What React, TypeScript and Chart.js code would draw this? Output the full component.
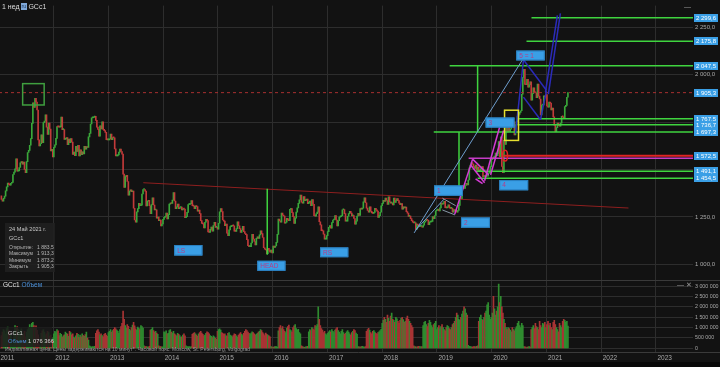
import React, { useEffect, useRef } from "react";
import { Chart, registerables } from "chart.js";
Chart.register(...registerables);

// ---------- data ----------
const FIRST_WEEK = 2011.0438; // Monday 17 Jan 2011 (fractional year)
const WEEK = 7 / 365.25;
const FIRST_OPEN = 1361.0;

const close2011 = [1342,1333,1348,1360,1388,1409,1429,1421,1418,1428,1432,1474,1486,1504,1556,1492,1493,1511,1536,1542,1529,1539,1501,1483,1542,1590,1601,1628,1663,1743,1852,1828,1876,1856,1814,1656,1624,1636,1683,1642,1747,1755,1788,1724,1685,1745,1713,1598,1606,1566];
const close2012 = [1617,1630,1664,1727,1725,1724,1726,1776,1710,1711,1659,1662,1669,1631,1660,1642,1663,1645,1580,1592,1573,1622,1595,1627,1572,1604,1579,1593,1582,1622,1607,1621,1616,1672,1691,1740,1772,1773,1776,1780,1759,1724,1712,1676,1731,1714,1751,1712,1705,1696,1657,1656];
const close2013 = [1656,1662,1687,1658,1669,1667,1609,1572,1572,1577,1592,1608,1595,1581,1476,1406,1463,1470,1437,1365,1386,1393,1383,1387,1296,1234,1223,1277,1294,1322,1310,1312,1371,1395,1395,1386,1308,1333,1338,1309,1268,1315,1351,1313,1287,1288,1244,1250,1230,1234,1203,1213];
const close2014 = [1237,1248,1253,1270,1240,1262,1318,1323,1321,1339,1379,1334,1294,1303,1318,1294,1300,1302,1287,1293,1292,1246,1252,1274,1316,1316,1320,1337,1310,1307,1294,1309,1305,1280,1287,1268,1231,1216,1214,1192,1222,1238,1231,1171,1169,1185,1197,1175,1205,1222,1195,1195];
const close2015 = [1186,1217,1277,1294,1279,1234,1228,1204,1213,1165,1152,1182,1199,1201,1205,1203,1175,1174,1189,1225,1204,1189,1168,1180,1201,1173,1163,1157,1131,1099,1094,1094,1113,1159,1134,1121,1103,1137,1145,1137,1156,1177,1162,1142,1088,1081,1076,1057,1085,1075,1065,1076];
const close2016 = [1061,1097,1089,1097,1116,1158,1239,1230,1222,1271,1259,1255,1217,1222,1243,1235,1231,1290,1294,1273,1252,1216,1244,1276,1298,1322,1340,1366,1328,1323,1357,1336,1338,1345,1320,1327,1334,1310,1342,1317,1257,1254,1267,1276,1304,1225,1208,1178,1177,1160,1133,1133,1152];
const close2017 = [1173,1196,1205,1191,1220,1234,1238,1257,1234,1203,1230,1249,1251,1257,1288,1289,1268,1228,1228,1254,1268,1280,1271,1256,1257,1242,1212,1228,1255,1269,1258,1294,1291,1297,1330,1351,1325,1297,1284,1275,1304,1280,1272,1269,1274,1296,1288,1281,1248,1257,1275,1309];
const close2018 = [1322,1338,1332,1349,1337,1316,1356,1330,1323,1323,1313,1349,1327,1336,1347,1336,1323,1315,1320,1291,1303,1298,1302,1278,1270,1253,1255,1241,1231,1223,1219,1219,1184,1213,1206,1199,1201,1201,1196,1207,1222,1229,1236,1233,1210,1223,1224,1226,1252,1241,1258,1283];
const close2019 = [1286,1290,1282,1298,1322,1318,1322,1332,1299,1298,1302,1314,1298,1295,1295,1276,1289,1281,1287,1276,1284,1311,1346,1345,1400,1414,1400,1416,1427,1419,1445,1509,1524,1537,1529,1515,1506,1524,1497,1513,1493,1494,1505,1515,1462,1468,1463,1465,1465,1481,1481,1515];
const close2020 = [1552,1562,1560,1571,1587,1573,1585,1648,1566,1672,1516,1484,1654,1633,1752,1698,1735,1700,1713,1756,1735,1751,1683,1737,1753,1781,1790,1801,1810,1897,1986,2028,1949,1947,1975,1934,1947,1962,1866,1900,1931,1906,1905,1879,1951,1887,1872,1788,1840,1840,1888,1883];
const close2021 = [1895,1835,1829,1856,1850,1814,1824,1778,1734,1700,1721,1745,1733,1729,1745,1781,1778,1768,1832,1838,1881,1905.3];

// weekly volume, thousands of contracts
const vol2011 = [620,780,900,850,700,950,1020,880,760,640,300,150,820,1100,980,1050,900,720,860,940,680,710,820,560,780,900,1010,1150,980,1200,1250,1100,960,1080,870,650,180,120,720,840,900,780,650,700,820,760,580,640,500,380];
const vol2012 = [700,820,760,900,850,620,720,680,540,600,650,780,720,690,580,820,760,650,700,540,480,600,720,680,520,640,560,700,620,580,660,780,500,400,120,80,60,90,70,100,720,840,900,780,650,700,620,560,680,720,640,580];
const vol2013 = [760,820,900,780,860,920,1000,940,880,820,720,900,1050,1200,1800,1400,1100,980,1150,1060,920,860,1000,1120,1250,1080,940,880,1020,960,900,1100,1050,980,120,90,80,70,60,100,880,920,1000,860,780,820,740,680,120,90,80,60];
const vol2014 = [70,800,760,840,700,720,860,900,780,740,820,700,650,600,720,680,620,540,560,640,700,600,120,90,70,80,60,90,680,720,760,700,640,580,700,760,820,740,680,600,640,720,800,760,700,620,580,520,600,560,480,440];
const vol2015 = [820,900,940,880,760,720,680,700,620,580,720,760,640,600,560,620,700,680,600,540,640,700,760,680,620,720,820,900,860,780,720,680,740,800,760,700,640,680,720,780,820,900,860,760,700,620,740,680,640,600,560,80];
const vol2016 = [60,50,70,90,80,60,850,1000,1100,950,1050,900,820,760,980,1050,1120,900,860,780,1000,1080,1150,950,880,920,760,700,120,80,60,50,70,90,100,800,900,860,1000,940,880,1100,1050,1150,2000,1400,1100,950,880,760,820,700,650];
const vol2017 = [720,800,860,780,900,820,760,880,940,1000,860,780,700,820,900,760,680,720,800,860,780,700,640,760,820,900,860,740,680,90,70,60,80,100,70,60,90,820,900,960,880,760,700,820,860,780,720,680,760,800,860,920];
const vol2018 = [1200,1350,1500,1400,1250,1600,1450,1300,1550,1700,1400,1350,1250,1500,1420,1300,1200,1350,1450,1500,1380,1250,1300,1450,1550,1400,1300,1200,1100,1000,120,90,70,60,80,100,90,70,80,1100,1250,1300,1150,1050,1200,1350,1250,1100,1000,1150,1200,1300];
const vol2019 = [900,1000,1100,950,1050,1150,1000,900,850,1000,1100,1050,950,900,1000,1150,1200,1300,1500,1700,1600,1400,1350,1500,1650,1800,2000,1900,1700,1600,150,100,80,70,60,80,90,70,100,120,1300,1500,1600,1400,1350,1500,1700,1800,2100,2200,1600,1400];
const vol2020 = [1500,1700,2500,1900,1600,1800,2000,3100,2200,2500,2000,1700,1400,1200,1000,900,1000,950,880,800,1000,900,850,950,1050,1200,1300,1100,1000,1200,1100,90,70,60,50,70,80,60,900,1000,1100,950,1200,1050,1000,900,1300,1100,1000,1200,1150,1250];
const vol2021 = [1000,1150,1300,1100,1200,1000,900,1250,1350,1150,1000,900,800,1200,1100,1000,1300,1400,1350,1250,1300,1076.366];

const closes = [close2011, close2012, close2013, close2014, close2015, close2016, close2017, close2018, close2019, close2020, close2021].flat();
const volumes = [vol2011, vol2012, vol2013, vol2014, vol2015, vol2016, vol2017, vol2018, vol2019, vol2020, vol2021].flat();

const yearTicks = [2011, 2012, 2013, 2014, 2015, 2016, 2017, 2018, 2019, 2020, 2021, 2022, 2023];
const priceTicks = [1000, 1250, 1500, 1750, 2000, 2250];
const hiddenPriceTicks = [1500, 1750];
const volumeTicks = [0, 500000, 1000000, 1500000, 2000000, 2500000, 3000000];

// horizontal levels (price, start year)
const greenLevels = [2299.6, 2175.8, 2047.5, 1767.5, 1736.7, 1697.3, 1491.1, 1454.5];
const greenLevelStarts = [2020.727, 2020.636, 2019.233, 2020.472, 2020.472, 2018.942, 2019.707, 2019.743];
const lastPrice = 1905.3;
const redLevel = 1572.5;
const redLevelStart = 2020.217;
const magentaLevel = 1560.0;
const magentaLevelStart = 2019.579;

// segments [year1, price1, year2, price2]
const neckline = [2013.636, 1430.5, 2022.499, 1297.2];
const greenVerticals = [
  [2019.743, 2047.5, 2019.743, 1697.3],
  [2019.403, 1697.3, 2019.403, 1413.4],
  [2015.9, 1399.4, 2015.9, 1050.3],
];
const lightBlueSegments = [
  [2018.583, 1166.0, 2020.563, 2078.8],
  [2018.614, 1181.5, 2019.129, 1343.9],
];
const graySegments = [
  [2019.1, 1349.1, 2019.342, 1309.6],
  [2019.1, 1286.8, 2019.33, 1260.9],
];
const magentaSegments = [
  [2019.324, 1264.5, 2019.652, 1555.0],
  [2019.652, 1555.0, 2019.944, 1472.0],
  [2019.616, 1523.9, 2019.871, 1430.5],
  [2019.871, 1440.9, 2020.162, 1741.7],
  [2019.98, 1472.0, 2020.217, 1705.4],
  [2019.706, 1451.2, 2019.834, 1425.3],
];
const navySegments = [
  [2020.435, 1689.8, 2020.581, 2078.8],
  [2020.581, 2078.8, 2021.0, 1918.1],
  [2020.581, 1881.7, 2020.891, 1762.5],
  [2020.891, 1762.5, 2021.0, 1912.9],
  [2020.982, 1907.7, 2021.2, 2312.2],
  [2021.036, 1897.3, 2021.255, 2322.6],
];
// rectangles [year1, price1, year2, price2]
const greenBox = [2011.432, 1952.8, 2011.825, 1840.3];
const yellowBox = [2020.235, 1812.8, 2020.49, 1653.5];
const redEllipse = [2020.199, 1601.7, 2020.29, 1544.6];
// wave labels
const waveLabels = ["LS", "HEAD", "RS", "1", "2", "3", "4", "5 = 1"];
const waveBoxes = [
  [2014.2, 1102.2, 2014.716, 1046.7],
  [2015.718, 1019.2, 2016.233, 966.3],
  [2016.865, 1089.7, 2017.381, 1037.9],
  [2018.947, 1416.5, 2019.475, 1361.5],
  [2019.439, 1247.4, 2019.967, 1193.5],
  [2019.889, 1774.4, 2020.417, 1721.0],
  [2020.138, 1444.5, 2020.667, 1390.6],
  [2020.448, 2127.1, 2020.969, 2075.2],
];

// ---------- styles ----------
const BG = "#121212";
const GRID = "#2d2d2d";
const UP = "#3aa83a";
const DOWN = "#c23a3a";
const VUP = "#2f8c2f";
const VDOWN = "#a83434";
const FONT = '"Liberation Sans", Arial, sans-serif';

function fmtNum(v: number, dec: number) {
  const s = v.toFixed(dec);
  const [ip, dp] = s.split(".");
  const g = ip.replace(/\B(?=(\d{3})+(?!\d))/g, " ");
  return dp ? g + "," + dp : g;
}

const overlayPlugin = {
  id: "overlay",
  beforeDatasetsDraw(chart: any) {
    const { ctx, scales, width } = chart;
    ctx.save();
    ctx.strokeStyle = "#3a3a3a";
    ctx.lineWidth = 1;
    ctx.beginPath();
    ctx.moveTo(0, Math.round(scales.y.bottom) + 0.5);
    ctx.lineTo(width, Math.round(scales.y.bottom) + 0.5);
    ctx.moveTo(0, Math.round(scales.yv.bottom) + 0.5);
    ctx.lineTo(width, Math.round(scales.yv.bottom) + 0.5);
    ctx.stroke();
    ctx.restore();
  },
  afterDatasetsDraw(chart: any) {
    const { ctx, chartArea, scales } = chart;
    const xs = scales.x;
    const ys = scales.y;
    const px = (v: number) => xs.getPixelForValue(v);
    const py = (v: number) => ys.getPixelForValue(v);
    ctx.save();
    ctx.beginPath();
    ctx.rect(chartArea.left, ys.top, chartArea.right - chartArea.left, ys.bottom - ys.top);
    ctx.clip();

    const seg = (s: number[], color: string, w: number) => {
      ctx.strokeStyle = color;
      ctx.lineWidth = w;
      ctx.beginPath();
      ctx.moveTo(px(s[0]), py(s[1]));
      ctx.lineTo(px(s[2]), py(s[3]));
      ctx.stroke();
    };
    const rect = (r: number[], color: string, w: number) => {
      ctx.strokeStyle = color;
      ctx.lineWidth = w;
      const x1 = px(r[0]), y1 = py(r[1]), x2 = px(r[2]), y2 = py(r[3]);
      ctx.strokeRect(Math.min(x1, x2), Math.min(y1, y2), Math.abs(x2 - x1), Math.abs(y2 - y1));
    };

    ctx.setLineDash([3, 3]);
    seg([xs.min, lastPrice, xs.max, lastPrice], "#a83030", 1);
    ctx.setLineDash([]);

    seg(neckline, "#8e1f1f", 1);

    greenLevels.forEach((p, i) => seg([greenLevelStarts[i], p, xs.max, p], "#3fd43f", 1.5));
    greenVerticals.forEach((s) => seg(s, "#3fd43f", 1.5));
    seg([magentaLevelStart, magentaLevel, xs.max, magentaLevel], "#c63cc6", 1.5);
    seg([redLevelStart, redLevel, xs.max, redLevel], "#e02424", 2);

    lightBlueSegments.forEach((s) => seg(s, "#6f9fcf", 1));
    graySegments.forEach((s) => seg(s, "#8898a8", 1));
    magentaSegments.forEach((s) => seg(s, "#d43cd4", 1.5));
    navySegments.forEach((s) => seg(s, "#2b2bb8", 1.5));

    rect(greenBox, "#3f9f3f", 1.5);
    rect(yellowBox, "#e6e030", 1.5);

    {
      const x1 = px(redEllipse[0]), y1 = py(redEllipse[1]), x2 = px(redEllipse[2]), y2 = py(redEllipse[3]);
      ctx.strokeStyle = "#e02424";
      ctx.lineWidth = 1.5;
      ctx.beginPath();
      ctx.ellipse((x1 + x2) / 2, (y1 + y2) / 2, Math.abs(x2 - x1) / 2, Math.abs(y2 - y1) / 2, 0, 0, Math.PI * 2);
      ctx.stroke();
    }

    ctx.font = `6.5px ${FONT}`;
    ctx.textBaseline = "middle";
    ctx.textAlign = "left";
    waveBoxes.forEach((b, i) => {
      const x1 = px(b[0]), y1 = py(b[1]), x2 = px(b[2]), y2 = py(b[3]);
      ctx.fillStyle = "#3a9fe6";
      ctx.fillRect(x1, y1, x2 - x1, y2 - y1);
      ctx.strokeStyle = "#2a7fc0";
      ctx.lineWidth = 1;
      ctx.strokeRect(x1 + 0.5, y1 + 0.5, x2 - x1 - 1, y2 - y1 - 1);
      ctx.fillStyle = "#b83c86";
      ctx.fillText(waveLabels[i], x1 + 3, (y1 + y2) / 2 + 0.5);
    });
    ctx.restore();

    ctx.save();
    ctx.font = `6px ${FONT}`;
    ctx.textBaseline = "middle";
    ctx.textAlign = "left";
    const tags = [...greenLevels, lastPrice, redLevel];
    tags.forEach((p) => {
      const y = py(p);
      const x = chartArea.right + 1;
      ctx.fillStyle = "#3a9fe6";
      ctx.fillRect(x, Math.round(y - 4), 24, 8);
      ctx.fillStyle = "#ffffff";
      ctx.fillText(fmtNum(p, 1), x + 2, Math.round(y) + 0.5);
    });
    ctx.restore();
  },
};

export default function App() {
  const ref = useRef<HTMLCanvasElement>(null);
  useEffect(() => {
    document.body.style.margin = "0";
    document.body.style.background = BG;
    const canvas = ref.current!;
    const n = Math.min(closes.length, volumes.length);
    const xsv: number[] = [];
    const opens: number[] = [];
    const up: boolean[] = [];
    for (let i = 0; i < n; i++) {
      xsv.push(FIRST_WEEK + i * WEEK);
      const o = i === 0 ? FIRST_OPEN : closes[i - 1];
      opens.push(o);
      up.push(closes[i] >= o);
    }
    const fitRight = (s: any) => { s.width = 27; };
    const chart = new Chart(canvas, {
      type: "bar",
      data: {
        datasets: [
          {
            label: "GCc1",
            data: xsv.map((x, i) => ({ x, y: [opens[i], closes[i]] })) as any,
            backgroundColor: up.map((u) => (u ? UP : DOWN)),
            yAxisID: "y",
            xAxisID: "x",
            barThickness: 1,
            minBarLength: 1,
            grouped: false,
          } as any,
          {
            label: "Объем",
            data: xsv.map((x, i) => ({ x, y: volumes[i] * 1000 })) as any,
            backgroundColor: up.map((u) => (u ? VUP : VDOWN)),
            yAxisID: "yv",
            xAxisID: "x",
            barThickness: 1,
            grouped: false,
          } as any,
        ],
      },
      options: {
        responsive: false,
        animation: false,
        devicePixelRatio: 1,
        layout: { padding: 0 },
        plugins: { legend: { display: false }, tooltip: { enabled: false } },
        scales: {
          x: {
            type: "linear",
            min: 2011,
            max: 2023.6776,
            offset: false,
            afterBuildTicks: (a: any) => { a.ticks = yearTicks.map((v) => ({ value: v })); },
            afterFit: (s: any) => { s.height = 15; },
            grid: { color: GRID, drawTicks: false, offset: false },
            border: { display: false },
            ticks: {
              autoSkip: false,
              maxRotation: 0,
              align: "start",
              labelOffset: 1.5,
              padding: 2,
              color: "#a8a8a8",
              font: { size: 6.5, family: FONT },
              callback: (v: any) => String(v),
            },
          },
          y: {
            type: "linear",
            position: "right",
            stack: "panes",
            stackWeight: 279,
            min: 917.0,
            max: 2364.1,
            afterBuildTicks: (a: any) => { a.ticks = priceTicks.map((v) => ({ value: v })); },
            afterFit: fitRight,
            grid: { color: GRID, drawTicks: false },
            border: { display: false },
            ticks: {
              autoSkip: false,
              padding: 2,
              color: "#a8a8a8",
              font: { size: 6, family: FONT },
              callback: (v: any) => (hiddenPriceTicks.includes(Number(v)) ? "" : fmtNum(Number(v), 1)),
            },
          },
          yv: {
            type: "linear",
            position: "right",
            stack: "panes",
            stackWeight: 73,
            min: -175000,
            max: 3284000,
            afterBuildTicks: (a: any) => { a.ticks = volumeTicks.map((v) => ({ value: v })); },
            afterFit: fitRight,
            grid: { color: GRID, drawTicks: false },
            border: { display: false },
            ticks: {
              autoSkip: false,
              padding: 2,
              color: "#a8a8a8",
              font: { size: 5.3, family: FONT },
              callback: (v: any) => fmtNum(Number(v), 0),
            },
          },
        } as any,
      },
      plugins: [overlayPlugin],
    });
    return () => chart.destroy();
  }, []);

  const txt: React.CSSProperties = { position: "absolute", fontFamily: FONT, whiteSpace: "nowrap", lineHeight: 1 };
  return (
    <div style={{ position: "fixed", left: 0, top: 0, width: 720, height: 367, overflow: "hidden", background: BG }}>
      <canvas ref={ref} width={723} height={367} style={{ position: "absolute", left: -3, top: 0, width: 723, height: 367 }} />
      <div style={{ ...txt, left: 2, top: 3, fontSize: 7, color: "#dcdcdc" }}>
        1 нед
        <span style={{ display: "inline-block", background: "#7fa8d8", color: "#1f3d66", fontSize: 5.5, padding: "0 1px", margin: "0 1px", height: 7, lineHeight: "7px", verticalAlign: "top" }}>ru</span>
        GCc1
      </div>
      <div style={{ ...txt, left: 684, top: 3, fontSize: 7, color: "#9a9a9a" }}>—</div>
      <div style={{ position: "absolute", left: 5, top: 223, width: 50, height: 49, background: "rgba(32,32,32,0.88)" }} />
      <div style={{ ...txt, left: 9, top: 227, fontSize: 5.6, color: "#c8c8c8" }}>24 Май 2021 г.</div>
      <div style={{ ...txt, left: 9, top: 236, fontSize: 5.6, color: "#c8c8c8" }}>GCc1</div>
      <div style={{ ...txt, left: 9, top: 244, fontSize: 5, color: "#b8b8b8", lineHeight: "6.4px" }}>
        Открытие:<br />Максимум<br />Минимум<br />Закрыть
      </div>
      <div style={{ ...txt, left: 37, top: 244, fontSize: 5, color: "#b8b8b8", lineHeight: "6.4px" }}>
        1 883,5<br />1 913,3<br />1 873,2<br />1 905,3
      </div>
      <div style={{ ...txt, left: 3, top: 282, fontSize: 6.5, color: "#e0e0e0" }}>
        GCc1 <span style={{ color: "#4a8fd8" }}>Объем</span>
      </div>
      <div style={{ ...txt, left: 677, top: 281, fontSize: 7, color: "#9a9a9a" }}>— ✕</div>
      <div style={{ position: "absolute", left: 0, top: 327, width: 52, height: 20, background: "rgba(26,26,26,0.85)" }} />
      <div style={{ ...txt, left: 8, top: 331, fontSize: 5.8, color: "#d8d8d8" }}>GCc1</div>
      <div style={{ ...txt, left: 8, top: 339, fontSize: 5.8, color: "#d8d8d8" }}>
        <span style={{ color: "#4a8fd8" }}>Объем</span> 1 076 366
      </div>
      <div style={{ ...txt, left: 5, top: 347, fontSize: 5, color: "#9a9a9a" }}>
        Индикативная цена. Цены задерживаются на 10 минут*. Часовой пояс: Moscow, St. Petersburg, Volgograd
      </div>
      <div style={{ position: "absolute", left: 0, top: 362, width: 720, height: 5, background: "#080808" }} />
    </div>
  );
}
